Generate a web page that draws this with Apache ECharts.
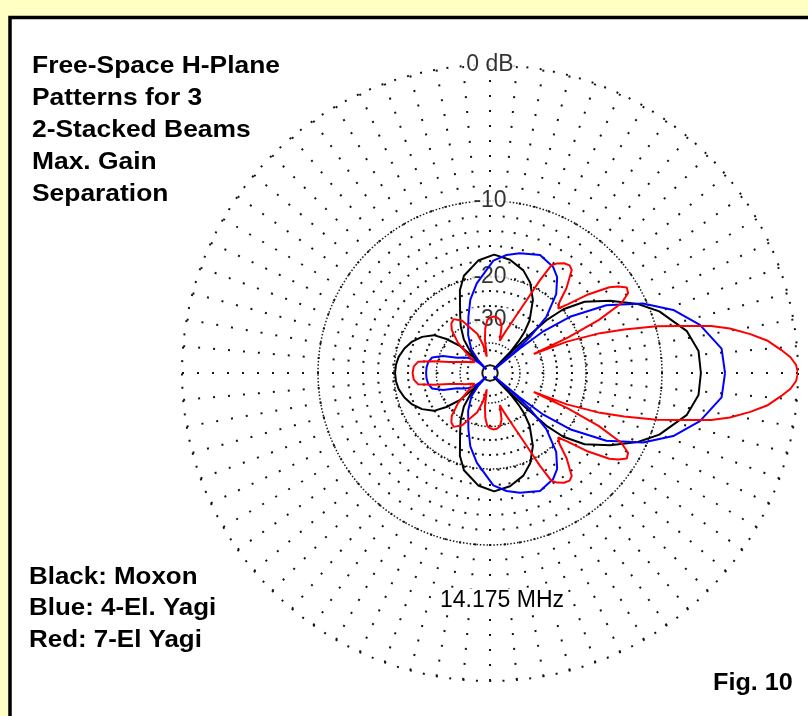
<!DOCTYPE html>
<html>
<head>
<meta charset="utf-8">
<title>Free-Space H-Plane Patterns</title>
<script src="https://cdn.jsdelivr.net/npm/echarts@6/dist/echarts.min.js"></script>
<style>
  html, body { margin: 0; padding: 0; background: #FFFFC4; }
  #chart { width: 808px; height: 716px; }
</style>
</head>
<body>
<div id="chart"></div>
<script>
// H-plane patterns (dB relative to the strongest beam), 0..180 deg; the other half mirrors it.
const blackAngles = [0, 6, 12, 20, 25, 31, 37, 41, 43, 44.3, 45, 46, 48, 50, 53, 59.5, 66, 72, 80, 88, 96, 105, 110, 116.7, 122, 128, 132, 134.3, 135, 136, 138, 142, 146, 152, 158, 164, 170, 175, 180];
const blackDb     = [-6.5, -6.6, -7.3, -9.2, -10.9, -13.5, -16.4, -19.8, -23.5, -32, -70, -40, -34, -30, -26.5, -22.2, -19.5, -18, -16.9, -16.4, -17.2, -19.2, -21.5, -26.3, -29.5, -34, -40, -50, -70, -45, -35, -29.5, -26, -23.8, -22.3, -21.3, -20.6, -20.3, -20.2];

const blueAngles = [0, 6, 12.9, 19, 24.4, 30.2, 35.1, 38, 39.3, 40, 40.7, 42, 44.8, 50, 55, 59.2, 67, 76, 82, 88.3, 98.4, 105, 111, 120, 128.5, 133, 135, 137, 142, 146, 150, 155, 160, 165, 170, 175, 180];
const blueDb     = [-4.64, -4.8, -6.14, -7.95, -10.4, -14.2, -19.7, -26, -36, -70, -38, -30, -23.3, -18.8, -16.6, -15.7, -15.06, -15.7, -16.3, -17.3, -21, -24, -28, -33.5, -40, -50, -70, -52, -45, -41.5, -39.5, -36.7, -31.2, -28.1, -27.3, -27.05, -27];

const redAngles = [0, 1.5, 3, 4.5, 6.7, 8.5, 10.5, 12, 14, 15.7, 18, 19.9, 22.2, 23.5, 24.5, 26, 28, 30, 32, 34, 35.7, 38.9, 41.5, 43.4, 45.5, 48, 51.6, 53.5, 56, 58.5, 60.3, 61.7, 63.3, 66.3, 70, 73, 76, 79.3, 83, 86.6, 90, 92.9, 96, 98.6, 101, 104, 108, 113.4, 118, 124, 128, 131.7, 136.7, 140, 145, 150, 155, 160, 163, 165, 168, 171, 175, 180];
const redDb     = [0, -0.1, -0.4, -0.9, -1.7, -2.7, -4, -5.3, -7.9, -9.9, -13.4, -16.6, -22.5, -32, -22, -16, -12.5, -11.3, -11.1, -11.8, -12.7, -15.6, -18.7, -20.4, -19.5, -17, -14.6, -14.3, -14.5, -15, -15.6, -18.4, -22.9, -28.7, -34, -38, -32, -29.8, -29.2, -29.1, -29.5, -30.2, -33, -37.9, -50, -40, -34.5, -31.5, -28.3, -26.7, -27.3, -28.8, -33.4, -40, -48, -45.5, -42, -38.8, -36, -34, -29, -24.8, -23.9, -23.7];

// Grid rings and their tick labels
const ringDb     = [0, -10, -20, -30];
const ringLabels = ['0 dB', '-10', '-20', '-30'];
const innerRingDb = -40;

// Text blocks
const titleLines  = ['Free-Space H-Plane', 'Patterns for 3', '2-Stacked Beams', 'Max. Gain', 'Separation'];
const legendLines = ['Black: Moxon', 'Blue: 4-El. Yagi', 'Red: 7-El Yagi'];
const freqLabel   = '14.175 MHz';
const figLabel    = 'Fig. 10';

// ARRL log-periodic radial scale: each 2 dB shrinks the radius by 0.89
function arrl(dB) { return Math.pow(0.89, -dB / 2); }

function pattern(angles, db) {
  const upper = angles.map((a, i) => [arrl(db[i]), a]);
  const lower = [];
  for (let i = angles.length - 2; i >= 0; i--) lower.push([arrl(db[i]), 360 - angles[i]]);
  return upper.concat(lower);
}

const CX = 490, CY = 373, R = 308;
const DOT = '#141414';
const sparse = { color: DOT, width: 2, type: [2, 13] };
const dense  = { color: DOT, width: 1.5, type: [1.5, 1.9] };

const polars = [
  { center: [CX, CY], radius: R },                               // data + 0 dB ring
  { center: [CX, CY], radius: R * arrl(-10) },
  { center: [CX, CY], radius: R * arrl(-20) },
  { center: [CX, CY], radius: R * arrl(-30) },                   // also inner 15 deg radials
  { center: [CX, CY], radius: R * arrl(innerRingDb) },
  { center: [CX, CY], radius: [R * arrl(-30), R] }               // 5 deg radials
];

function angleAxisFor(i) {
  const base = {
    polarIndex: i, type: 'value', min: 0, max: 360, startAngle: 0, clockwise: false,
    axisTick: { show: false }, axisLabel: { show: false },
    axisLine: { show: false }, splitLine: { show: false }, interval: 90
  };
  if (i === 0) {
    base.axisLine = { show: true, lineStyle: { color: DOT, width: 2, type: [2, 11.4] } };
  } else if (i >= 1 && i <= 4) {
    base.axisLine = { show: true, lineStyle: dense };
  }
  if (i === 3) { base.interval = 15; base.splitLine = { show: true, lineStyle: sparse }; }
  if (i === 5) { base.interval = 5;  base.splitLine = { show: true, lineStyle: sparse }; }
  return base;
}

const chart = echarts.init(document.getElementById('chart'), null, { renderer: 'canvas' });

const textFont = '"Liberation Sans", Arial, sans-serif';
const graphics = [
  { type: 'rect', z: -10, shape: { x: 10, y: 17.5, width: 830, height: 730 },
    style: { fill: '#ffffff', stroke: '#000000', lineWidth: 3.5 } }
];
titleLines.forEach((t, i) => graphics.push({
  type: 'text', x: 32, y: 66 + 32 * i, scaleX: 1.1, z: 5,
  style: { text: t, font: 'bold 24px ' + textFont, fill: '#000', verticalAlign: 'middle', align: 'left' }
}));
legendLines.forEach((t, i) => graphics.push({
  type: 'text', x: 29, y: 577 + 31.6 * i, scaleX: 1.08, z: 5,
  style: { text: t, font: 'bold 24px ' + textFont, fill: '#000', verticalAlign: 'middle', align: 'left' }
}));
graphics.push({
  type: 'text', x: 713, y: 683, scaleX: 1.05, z: 5,
  style: { text: figLabel, font: 'bold 24px ' + textFont, fill: '#000', verticalAlign: 'middle', align: 'left' }
});
graphics.push({
  type: 'text', x: 502, y: 601, z: 5,
  style: { text: freqLabel, font: '23px ' + textFont, fill: '#000', verticalAlign: 'middle', align: 'center',
           backgroundColor: '#fff', padding: [1, 3] }
});

chart.setOption({
  animation: false,
  backgroundColor: '#FFFFC4',
  graphic: { elements: graphics },
  polar: polars,
  angleAxis: polars.map((p, i) => angleAxisFor(i)),
  radiusAxis: polars.map((p, i) => ({ polarIndex: i, type: 'value', min: 0, max: 1, show: false })),
  series: [
    {
      name: 'ring labels', type: 'scatter', coordinateSystem: 'polar', polarIndex: 0,
      symbolSize: 0, silent: true, z: 2,
      data: ringDb.map(d => [arrl(d), 90]),
      label: {
        show: true, position: 'inside', color: '#000', fontFamily: textFont, fontSize: 23,
        backgroundColor: '#fff', padding: [0, 2],
        formatter: p => ringLabels[p.dataIndex]
      }
    },
    {
      name: 'Moxon', type: 'line', coordinateSystem: 'polar', polarIndex: 0, z: 3,
      showSymbol: false, symbol: 'none', silent: true,
      lineStyle: { color: '#000000', width: 2 }, data: pattern(blackAngles, blackDb)
    },
    {
      name: '4-El. Yagi', type: 'line', coordinateSystem: 'polar', polarIndex: 0, z: 4,
      showSymbol: false, symbol: 'none', silent: true,
      lineStyle: { color: '#0000FF', width: 2 }, data: pattern(blueAngles, blueDb)
    },
    {
      name: '7-El Yagi', type: 'line', coordinateSystem: 'polar', polarIndex: 0, z: 4,
      showSymbol: false, symbol: 'none', silent: true,
      lineStyle: { color: '#FF0000', width: 2 }, data: pattern(redAngles, redDb)
    }
  ]
});
</script>
</body>
</html>
